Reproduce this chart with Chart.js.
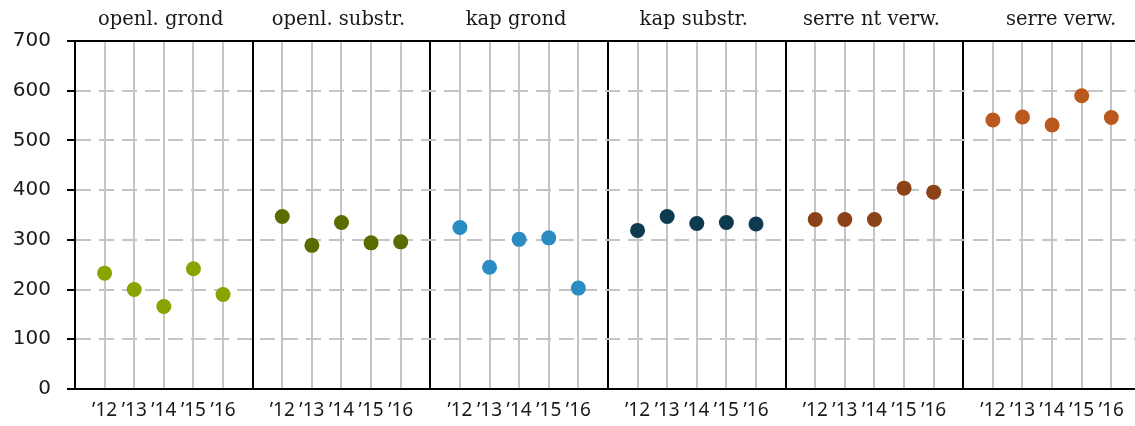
<!DOCTYPE html>
<html>
<head>
<meta charset="utf-8">
<script src="https://cdn.jsdelivr.net/npm/chart.js@4"></script>
<style>
  html, body { margin: 0; padding: 0; background: #fff; }
  #wrap { width: 1135px; height: 426px; }
</style>
</head>
<body>
<div id="wrap"><canvas id="dotChart"></canvas></div>
<script>
// data
const panels = ['openl. grond', 'openl. substr.', 'kap grond', 'kap substr.', 'serre nt verw.', 'serre verw.'];
const years = ['’12', '’13', '’14', '’15', '’16'];
const openlGrond = [233, 200, 166, 242, 190];
const openlSubstr = [347, 289, 335, 294, 296];
const kapGrond = [325, 245, 301, 304, 203];
const kapSubstr = [319, 347, 333, 335, 332];
const serreNtVerw = [341, 341, 341, 404, 396];
const serreVerw = [541, 547, 531, 590, 546];
const yTicks = [0, 100, 200, 300, 400, 500, 600, 700];

const series = [openlGrond, openlSubstr, kapGrond, kapSubstr, serreNtVerw, serreVerw];
const colors = ['#8ba300', '#5b6b00', '#2a8cc0', '#0e3a4f', '#8a4216', '#b9591e'];
const slots = years.length + 1; // 5 years + one spacer per panel

const datasets = series.map((vals, p) => ({
    label: panels[p],
    data: vals.map((v, j) => ({ x: p * slots + j + 1, y: v })),
    backgroundColor: colors[p],
    borderWidth: 0,
    pointRadius: 7.5,
    pointHoverRadius: 7.5,
    showLine: false
}));

// panel titles above each block
const panelTitles = {
    id: 'panelTitles',
    afterDraw(chart) {
        const { ctx, scales: { x } } = chart;
        ctx.save();
        ctx.font = '19.5px "DejaVu Serif"';
        ctx.fillStyle = '#1a1a1a';
        ctx.textAlign = 'center';
        ctx.textBaseline = 'middle';
        panels.forEach((t, p) => {
            let cx = x.getPixelForValue(p * slots + slots / 2);
            if (p === panels.length - 1) cx += 12; // last block is cut off on the right
            ctx.fillText(t, cx - 3, 20);
        });
        ctx.restore();
    }
};

const ctx = document.getElementById('dotChart').getContext('2d');

const dotChart = new Chart(ctx, {
    type: 'scatter',
    data: { datasets },
    plugins: [panelTitles],
    options: {
        responsive: true,
        maintainAspectRatio: false,
        animation: false,
        layout: { autoPadding: false, padding: { top: 41, right: 0, left: 0, bottom: 0 } },
        plugins: {
            legend: { display: false },
            tooltip: { enabled: false }
        },
        scales: {
            x: {
                type: 'linear',
                min: 0,
                max: 35.8,
                afterFit(s) {
                    s.height = 37;
                    s.paddingLeft = 0;
                    s.paddingRight = 0;
                },
                afterBuildTicks(s) {
                    const t = [];
                    for (let i = 0; i <= 35; i++) t.push({ value: i });
                    s.ticks = t;
                },
                grid: {
                    drawTicks: false,
                    lineWidth: 2,
                    color: c => (c.tick && c.tick.value % slots === 0) ? '#000' : '#c4c4c4'
                },
                border: { display: true, color: '#000', width: 2 },
                ticks: {
                    autoSkip: false,
                    maxRotation: 0,
                    padding: 10,
                    color: '#1a1a1a',
                    font: { family: 'Noto Sans', size: 19 },
                    callback: v => {
                        const k = Math.round(v) % slots;
                        return k >= 1 && k <= years.length ? years[k - 1] : '';
                    }
                }
            },
            xTop: {
                type: 'linear',
                position: 'top',
                min: 0,
                max: 35.8,
                afterFit(s) {
                    s.height = 0;
                    s.paddingLeft = 0;
                    s.paddingRight = 0;
                },
                grid: { display: false, drawTicks: false },
                ticks: { display: false },
                border: { display: true, color: '#000', width: 2 }
            },
            y: {
                min: 0,
                max: 700,
                afterFit(s) { s.width = 75; },
                afterBuildTicks(s) { s.ticks = yTicks.map(v => ({ value: v })); },
                grid: {
                    lineWidth: 2,
                    color: '#c4c4c4',
                    tickColor: '#000',
                    tickLength: 8,
                    tickWidth: 2
                },
                border: { color: '#000', width: 2, dash: [15, 8] },
                ticks: {
                    padding: 16,
                    color: '#1a1a1a',
                    font: { family: 'DejaVu Sans', size: 20 }
                }
            }
        }
    }
});
</script>
</body>
</html>
